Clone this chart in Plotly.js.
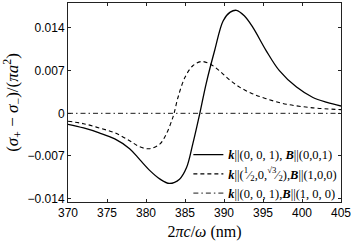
<!DOCTYPE html>
<html>
<head>
<meta charset="utf-8">
<script src="https://cdn.plot.ly/plotly-3.0.1.min.js"></script>
<style>html,body{margin:0;padding:0;background:#fff;}#chart{width:353px;height:245px;}</style>
</head>
<body>
<div id="chart"></div>
<script>
// Data
const solidX = [370, 372, 374, 376, 377.9, 379.2, 380.5, 381.8, 383.0, 384.3, 385.2, 386.0, 386.9, 387.7, 388.8, 389.9, 390.8, 391.6, 392.6, 393.7, 395.4, 397.1, 399.3, 401.4, 403.2, 405];
const solidY = [-0.0018, -0.0024, -0.0032, -0.0042, -0.0058, -0.0076, -0.0094, -0.0108, -0.0115, -0.0108, -0.0089, -0.0050, 0.0, 0.0048, 0.0103, 0.0152, 0.0166, 0.0169, 0.0160, 0.0141, 0.0103, 0.0070, 0.0043, 0.0026, 0.0018, 0.0012];
const dashX = [370, 372, 374, 376, 377.9, 379.2, 380.5, 381.8, 382.6, 383.3, 383.6, 384.1, 385.0, 386.0, 387.1, 388.2, 389.4, 390.7, 392.0, 393.5, 395.4, 398.0, 401.4, 405];
const dashY = [-0.0013, -0.0017, -0.0024, -0.0032, -0.0045, -0.0055, -0.0058, -0.0050, -0.0034, -0.0012, 0.0, 0.0026, 0.0059, 0.0078, 0.0085, 0.0081, 0.0070, 0.0055, 0.0043, 0.0033, 0.0024, 0.0015, 0.0009, 0.0006];
const dotdashX = [370, 405];
const dotdashY = [0, 0];
const xTicks = [370, 375, 380, 385, 390, 395, 400, 405];
const yTicks = [-0.014, -0.007, 0, 0.007, 0.014];
const yTickText = ["\u22120.014", "\u22120.007", "0", "0.007", "0.014"];
const names = [
  "<b><i>k</i></b>||(0, 0, 1), <b><i>B</i></b>||(0,0,1)",
  "<b><i>k</i></b>||(<sup>1</sup>\u2044<sub>2</sub>,0,<sup>\u221A3</sup>\u2044<sub>2</sub>),<b><i>B</i></b>||(1,0,0)",
  "<b><i>k</i></b>||(0, 0, 1),<b><i>B</i></b>||(1, 0, 0)"
];

const traces = [
  {x: solidX, y: solidY, name: names[0], mode: 'lines', line: {color: '#000', width: 1.3, shape: 'spline', smoothing: 1}},
  {x: dashX, y: dashY, name: names[1], mode: 'lines', line: {color: '#000', width: 1.1, dash: '4px,3px', shape: 'spline', smoothing: 1}},
  {x: dotdashX, y: dotdashY, name: names[2], mode: 'lines', line: {color: '#000', width: 0.9, dash: '5px,3px,1.5px,3px'}}
];

const axisCommon = {
  showline: true, linecolor: '#222', linewidth: 1, mirror: 'allticks',
  ticks: 'inside', ticklen: 3, tickcolor: '#222', tickwidth: 1,
  showgrid: false, zeroline: false,
  tickfont: {family: 'Liberation Sans, Arial, sans-serif', size: 12, color: '#000'}
};

const layout = {
  width: 353, height: 245,
  margin: {l: 68, r: 12, t: 3, b: 43},
  paper_bgcolor: '#fff', plot_bgcolor: '#fff',
  showlegend: true,
  xaxis: Object.assign({}, axisCommon, {
    range: [370, 405], tickvals: xTicks, ticktext: xTicks.map(String),
    title: {text: '2<i>\u03C0c</i>/<i>\u03C9</i> (nm)', font: {family: 'Liberation Serif, serif', size: 16, color: '#000'}, standoff: 6}
  }),
  yaxis: Object.assign({}, axisCommon, {
    range: [-0.01455, 0.0181], tickvals: yTicks, ticktext: yTickText,
    title: {text: '(<i>\u03C3</i><sub>+</sub> \u2212 <i>\u03C3</i><sub>\u2212</sub>)/(<i>\u03C0a</i><sup>2</sup>)', font: {family: 'Liberation Serif, serif', size: 17, color: '#000'}, standoff: 6}
  }),
  legend: {
    x: 1.005, xanchor: 'right', y: -0.03, yanchor: 'bottom',
    bgcolor: 'rgba(255,255,255,0)', borderwidth: 0,
    font: {family: 'Liberation Serif, serif', size: 12.5, color: '#000'},
    tracegroupgap: 0, itemwidth: 30
  }
};

Plotly.newPlot('chart', traces, layout, {displayModeBar: false, staticPlot: true});
</script>
</body>
</html>
